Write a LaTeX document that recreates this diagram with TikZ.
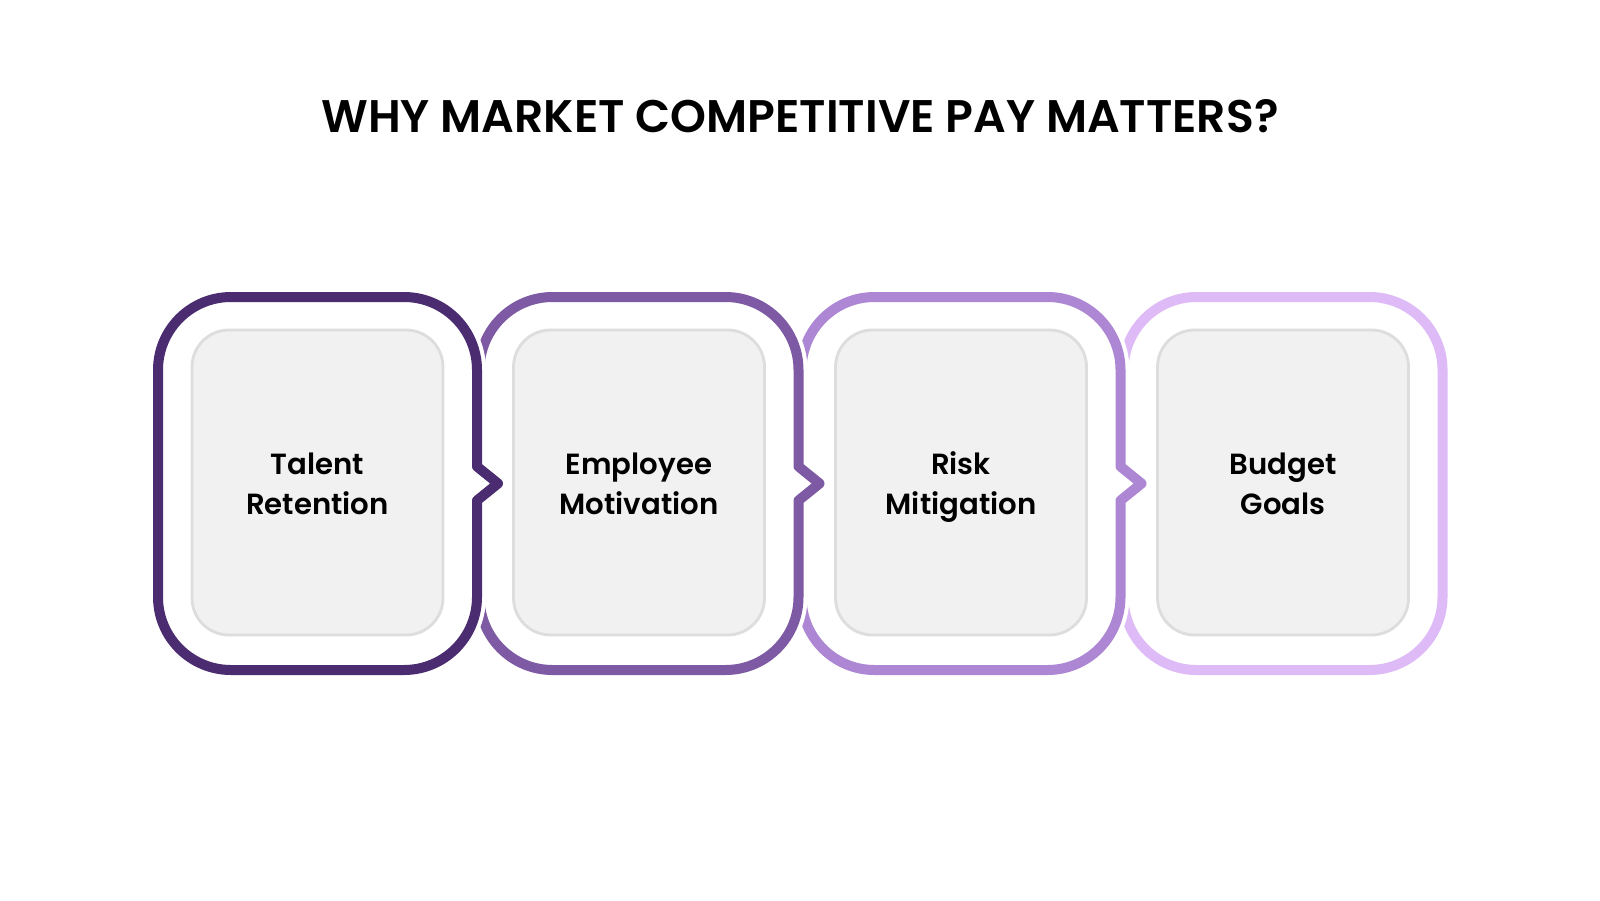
\documentclass[tikz,border=0pt]{standalone}
\usepackage{fontspec}
\setmainfont{Poppins}[UprightFont={* Medium},BoldFont={* SemiBold}]
\definecolor{pay1}{RGB}{75,44,113}
\definecolor{pay2}{RGB}{125,90,163}
\definecolor{pay3}{RGB}{173,135,212}
\definecolor{pay4}{RGB}{222,186,247}
\definecolor{cardfill}{RGB}{241,241,241}
\definecolor{cardline}{RGB}{221,221,221}
% outline of one step: centre x, depth of the chevron
\newcommand{\payshape}[2]{(#1-1.595,4.165)--(#1-1.595,5.3) arc[start angle=180,end angle=90,radius=.73]--(#1+.865,6.03) arc[start angle=90,end angle=0,radius=.73]--(#1+1.595,4.335)--(#1+1.595+#2,4.165)--(#1+1.595,3.995)--(#1+1.595,3.03) arc[start angle=0,end angle=-90,radius=.73]--(#1-.865,2.3) arc[start angle=270,end angle=180,radius=.73]--cycle}
\begin{document}
\begin{tikzpicture}[line join=round,line cap=round,
  card/.style={draw=cardline,fill=cardfill,line width=.8pt,rounded corners=3.7mm,minimum width=2.51cm,minimum height=3.05cm,align=center,font=\bfseries\fontsize{8.3}{11.4}\selectfont},
  halo/.style={draw=white,fill=white,line width=.18cm}]
\useasboundingbox[fill=white] (0,0) rectangle (16,9);
\node[font=\bfseries\fontsize{13}{16}\selectfont] (title) at (8,7.84) {WHY MARKET COMPETITIVE PAY MATTERS?};
\foreach \cx/\col/\tip in {12.83/pay4/0,9.61/pay3/.21,6.39/pay2/.21,3.175/pay1/.21}{
  \path[halo] \payshape{\cx}{\tip};
  \draw[\col,line width=.1cm] \payshape{\cx}{\tip};}
\foreach \i/\cx/\txt in {1/3.175/Talent\\Retention,2/6.39/Employee\\Motivation,3/9.61/Risk\\Mitigation,4/12.83/Budget\\Goals}
  \node[card] (card\i) at (\cx,4.175) {\rule{0pt}{10.3pt}\txt\strut};
\end{tikzpicture}
\end{document}
